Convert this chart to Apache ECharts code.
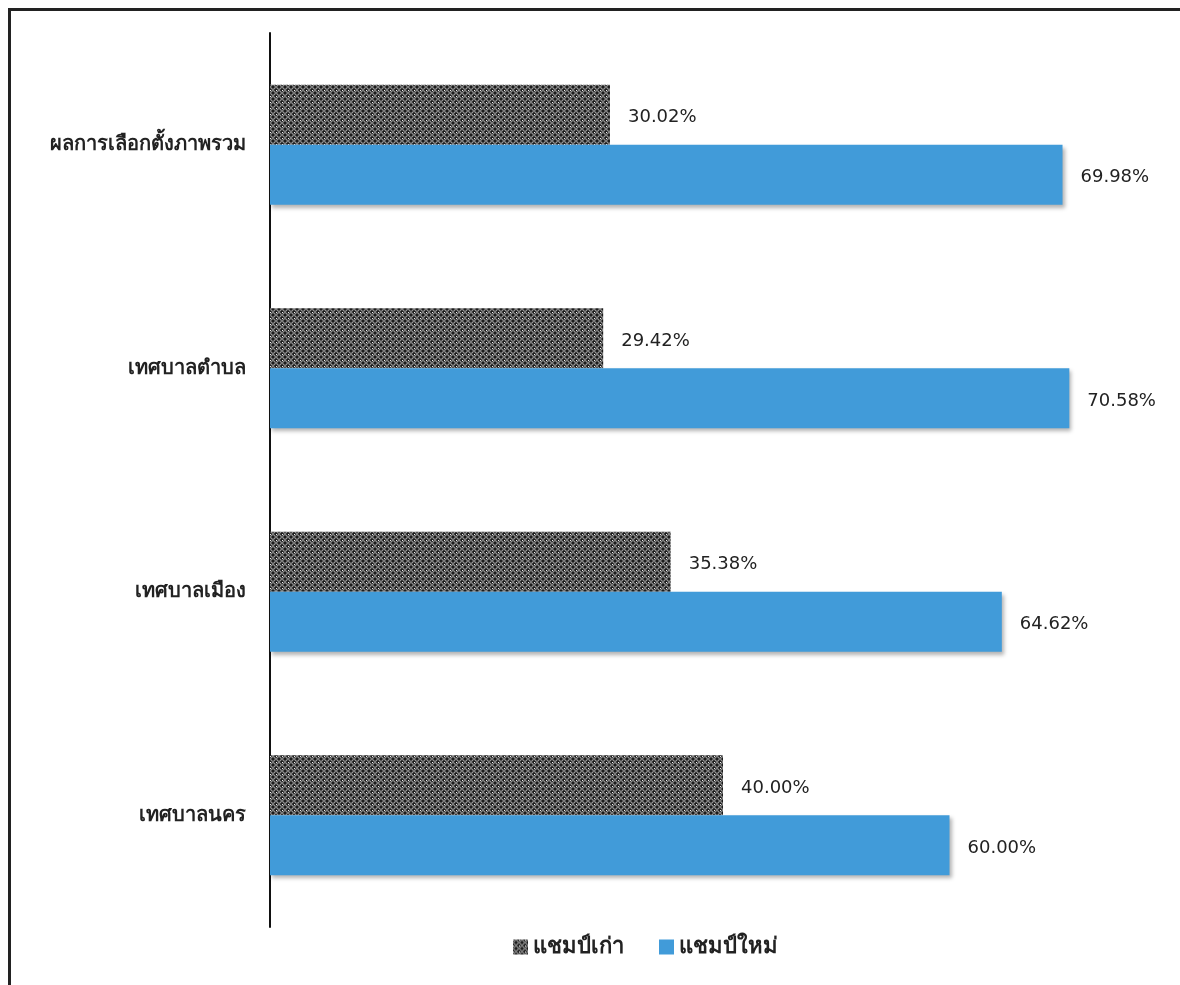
<!DOCTYPE html>
<html>
<head>
<meta charset="utf-8">
<script src="https://cdn.jsdelivr.net/npm/echarts@6/dist/echarts.min.js"></script>
<style>
html,body{margin:0;padding:0;background:#fff;}
#chart{width:1180px;height:985px;}
</style>
</head>
<body>
<div id="chart"></div>
<script>
const categories = ['ผลการเลือกตั้งภาพรวม', 'เทศบาลตำบล', 'เทศบาลเมือง', 'เทศบาลนคร'];
const seriesNames = ['แชมป์เก่า', 'แชมป์ใหม่'];
const oldChampValues = [30.02, 29.42, 35.38, 40.00];
const newChampValues = [69.98, 70.58, 64.62, 60.00];

function makePattern() {
  const c = document.createElement('canvas');
  const n = 6;
  c.width = n; c.height = n;
  const ctx = c.getContext('2d');
  ctx.fillStyle = '#1c1c1c';
  ctx.fillRect(0, 0, n, n);
  ctx.strokeStyle = '#c8c8c8';
  ctx.lineWidth = 0.9;
  ctx.beginPath();
  ctx.arc(n / 2, n / 2, 2.3, 0, Math.PI * 2);
  ctx.stroke();
  ctx.fillStyle = '#f0f0f0';
  ctx.fillRect(0, 0, 1, 1);
  return c;
}
const pattern = { image: makePattern(), repeat: 'repeat' };

const FONT = '"Noto Sans", "DejaVu Sans", sans-serif';
const NUMFONT = '"DejaVu Sans", "Noto Sans", sans-serif';
const chart = echarts.init(document.getElementById('chart'), null, { renderer: 'canvas' });
const shadow = { shadowBlur: 4, shadowOffsetX: 2, shadowOffsetY: 3, shadowColor: 'rgba(0,0,0,0.3)' };
const valueLabel = {
  show: true, position: 'right', distance: 18, offset: [0, 3],
  fontSize: 18, color: '#222', fontFamily: NUMFONT,
  formatter: p => p.value.toFixed(2) + '%'
};

chart.setOption({
  backgroundColor: '#ffffff',
  animation: false,
  graphic: [
    { type: 'rect', shape: { x: 8, y: 8, width: 1180, height: 3 }, style: { fill: '#222' } },
    { type: 'rect', shape: { x: 8, y: 8, width: 3, height: 990 }, style: { fill: '#222' } }
  ],
  legend: {
    data: seriesNames,
    icon: 'rect',
    bottom: 22,
    left: 508,
    itemWidth: 15,
    itemHeight: 15,
    itemGap: 35,
    textStyle: { fontSize: 22, color: '#222', fontFamily: FONT, fontWeight: 'bold' }
  },
  grid: { left: 270, right: 4, top: 33, height: 894, containLabel: false },
  xAxis: {
    type: 'value', min: 0, max: 80,
    show: false, splitLine: { show: false }
  },
  yAxis: {
    type: 'category', data: categories, inverse: true,
    axisLine: { lineStyle: { color: '#111', width: 2 } },
    axisTick: { show: false },
    axisLabel: { fontSize: 20, color: '#222', fontFamily: FONT, fontWeight: 'bold', margin: 24 }
  },
  series: [
    {
      name: seriesNames[0], type: 'bar', data: oldChampValues,
      barWidth: 60, barGap: '0%',
      itemStyle: { color: pattern },
      label: valueLabel
    },
    {
      name: seriesNames[1], type: 'bar', data: newChampValues,
      barWidth: 60, barGap: '0%',
      itemStyle: Object.assign({ color: '#419bd9' }, shadow),
      label: valueLabel
    }
  ]
});
</script>
</body>
</html>
